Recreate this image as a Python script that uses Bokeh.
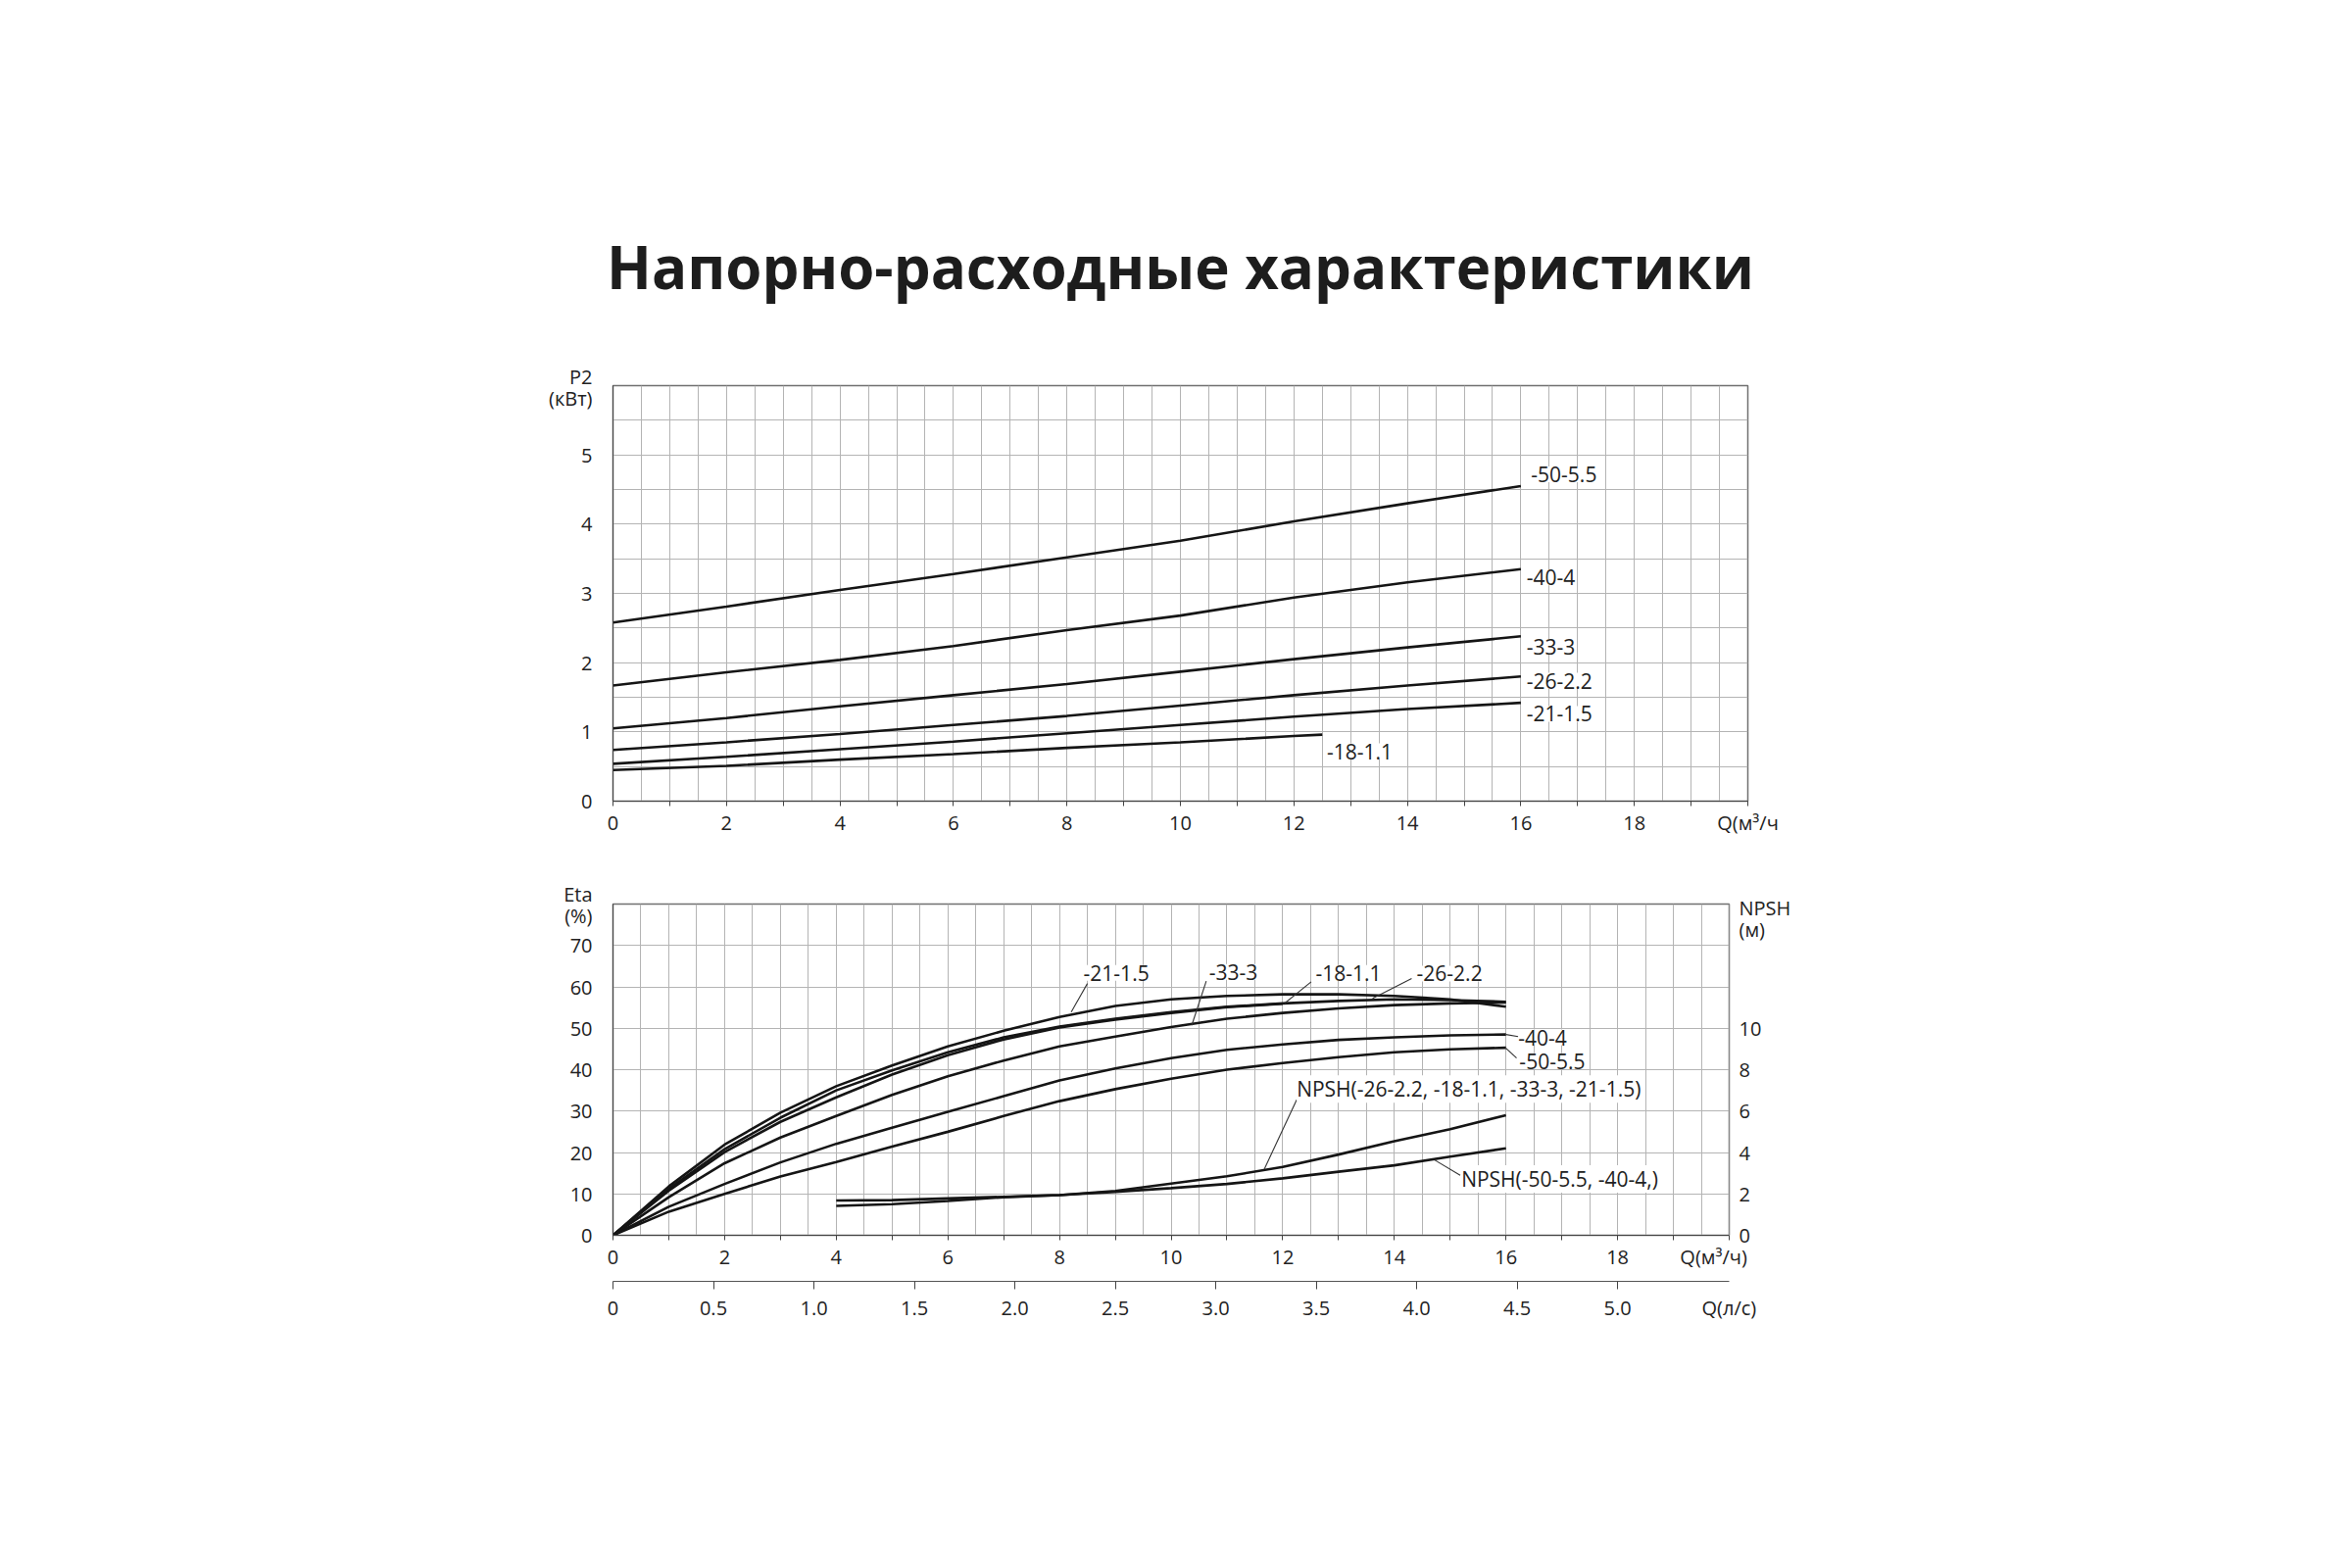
import numpy as np
from bokeh.plotting import figure
from bokeh.models import (Range1d, LinearAxis, FixedTicker, Label, CustomJSTickFormatter,
                          ColumnDataSource)
from bokeh.layouts import column
from bokeh.embed import file_html
from bokeh.resources import INLINE

# ---------------- data ----------------
TITLE = "Напорно-расходные характеристики"

# P2 (kW) vs Q (m3/h)
q_p2 = [0, 2, 4, 6, 8, 10, 12, 14, 16]
p2_50_55 = [2.58, 2.81, 3.05, 3.28, 3.52, 3.76, 4.04, 4.30, 4.55]
p2_40_4 = [1.67, 1.86, 2.04, 2.24, 2.47, 2.68, 2.94, 3.16, 3.35]
p2_33_3 = [1.05, 1.20, 1.37, 1.53, 1.69, 1.87, 2.05, 2.22, 2.38]
p2_26_22 = [0.74, 0.85, 0.97, 1.10, 1.23, 1.38, 1.53, 1.67, 1.80]
p2_21_15 = [0.54, 0.64, 0.75, 0.86, 0.98, 1.10, 1.22, 1.33, 1.42]
q_p2_18 = [0, 2, 4, 6, 8, 10, 12, 12.5]
p2_18_11 = [0.45, 0.51, 0.60, 0.68, 0.77, 0.85, 0.94, 0.96]

# Eta (%) vs Q (m3/h)
q_eta = [0, 1, 2, 3, 4, 5, 6, 7, 8, 9, 10, 11, 12, 13, 14, 15, 16]
eta_21_15 = [0, 11.8, 21.9, 29.6, 36.0, 41.0, 45.6, 49.4, 52.7, 55.4, 57.0, 57.8, 58.2, 58.2, 57.8, 57.0, 55.2]
eta_26_22 = [0, 11.2, 20.8, 28.4, 35.0, 39.8, 44.2, 47.8, 50.4, 52.3, 53.9, 55.2, 56.0, 56.6, 57.0, 56.8, 56.4]
eta_33_3 = [0, 9.2, 17.4, 23.6, 28.8, 33.9, 38.4, 42.2, 45.6, 48.0, 50.3, 52.3, 53.7, 54.8, 55.6, 56.0, 56.2]
eta_40_4 = [0, 6.9, 12.4, 17.6, 22.1, 26.0, 29.8, 33.6, 37.4, 40.3, 42.8, 44.8, 46.1, 47.2, 47.8, 48.3, 48.5]
eta_50_55 = [0, 5.7, 10.0, 14.2, 17.7, 21.4, 25.0, 28.8, 32.4, 35.3, 37.8, 40.0, 41.6, 43.0, 44.2, 44.9, 45.3]
q_eta_18 = [0, 1, 2, 3, 4, 5, 6, 7, 8, 9, 10, 11, 12]
eta_18_11 = [0, 10.8, 20.1, 27.4, 33.3, 38.8, 43.5, 47.3, 50.2, 52.1, 53.7, 55.1, 55.9]

# NPSH (m) vs Q (m3/h)
q_npsh = [4, 5, 6, 7, 8, 9, 10, 11, 12, 13, 14, 15, 16]
npsh_small = [1.42, 1.50, 1.66, 1.84, 1.94, 2.14, 2.50, 2.85, 3.30, 3.90, 4.54, 5.12, 5.80]
npsh_large = [1.68, 1.70, 1.78, 1.86, 1.94, 2.10, 2.28, 2.48, 2.75, 3.07, 3.38, 3.80, 4.20]

# tick labels / axis titles
M3H_PER_LS = 3.6
p2_x_ticks = [0, 2, 4, 6, 8, 10, 12, 14, 16, 18]
p2_y_ticks = [0, 1, 2, 3, 4, 5]
eta_x_ticks = [0, 2, 4, 6, 8, 10, 12, 14, 16, 18]
eta_y_ticks = [0, 10, 20, 30, 40, 50, 60, 70]
npsh_ticks = [0, 2, 4, 6, 8, 10]
ls_ticks = [0, 0.5, 1.0, 1.5, 2.0, 2.5, 3.0, 3.5, 4.0, 4.5, 5.0]
P2_TITLE = ("P2\\n(кВт)", 5.97)          # (text, y position)
ETA_TITLE = ("Eta\\n(%)", 79.8)
NPSH_TITLE = ("NPSH\\n(м)", 15.3)
Q_TOP_TITLE = ("Q(м³/ч", 20.0)             # (text, x position)
Q_BOT_TITLE = ("Q(м³/ч)", 19.72)
Q_LS_TITLE = ("Q(л/с)", 5.555)

# curve labels (text, x, y) and callout leader lines
p2_labels = [("-50-5.5", 16.18, 4.72), ("-40-4", 16.1, 3.23), ("-33-3", 16.1, 2.23),
             ("-26-2.2", 16.1, 1.74), ("-21-1.5", 16.1, 1.26), ("-18-1.1", 12.58, 0.72)]
eta_labels = [("-21-1.5", 8.43, 63.4), ("-33-3", 10.68, 63.6), ("-18-1.1", 12.59, 63.4),
              ("-26-2.2", 14.40, 63.2), ("-40-4", 16.22, 47.8), ("-50-5.5", 16.24, 42.1),
              ("NPSH(-26-2.2, -18-1.1, -33-3, -21-1.5)", 12.25, 35.3),
              ("NPSH(-50-5.5, -40-4,)", 15.2, 13.6)]
leaders_x0 = [8.50, 10.63, 12.51, 14.31, 16.0, 16.0, 12.25, 15.18]
leaders_y0 = [60.8, 61.4, 61.2, 62.0, 48.5, 45.2, 32.7, 14.5]
leaders_x1 = [8.21, 10.37, 12.04, 13.61, 16.22, 16.19, 11.67, 14.72]
leaders_y1 = [53.9, 50.7, 56.1, 57.2, 48.0, 42.8, 16.0, 18.2]

FONT = "Open Sans"
LINE = "#151515"
GRID = "#b4b4b4"
TXT = "#222222"


def fmt(special_text, threshold, decimals=0, zero_plain=False):
    code = ("if (tick > %s) { return '%s'; } " % (threshold, special_text))
    if zero_plain:
        code += "if (tick == 0) { return '0'; } "
    code += "return tick.toFixed(%d);" % decimals
    return CustomJSTickFormatter(code=code)


def style_common(p):
    p.outline_line_color = "#707070"
    p.outline_line_width = 1.5
    p.background_fill_color = "white"
    p.border_fill_color = "white"
    for ax in p.axis:
        ax.major_label_text_font = FONT
        ax.major_label_text_font_size = "20px"
        ax.major_label_text_color = TXT
        ax.major_label_text_line_height = 0.8
        ax.axis_line_color = "#444444"
        ax.major_tick_line_color = "#444444"
        ax.minor_tick_line_color = "#444444"
        ax.major_tick_in = 0
        ax.minor_tick_in = 0
        ax.major_tick_out = 0
        ax.minor_tick_out = 0
    for g in p.grid:
        g.grid_line_color = GRID
        g.grid_line_width = 1


def add_label(p, text, x, y):
    p.add_layout(Label(x=x, y=y, text=text, text_font=FONT, text_font_size="21px",
                       text_color=TXT, text_align="left", text_baseline="middle",
                       background_fill_color="white", background_fill_alpha=1.0))


# ---------------- top: P2 ----------------
p1 = figure(width=1899, height=869, x_range=Range1d(0, 20), y_range=Range1d(0, 6),
            output_backend="svg", toolbar_location=None,
            min_border_left=625, min_border_right=100, min_border_top=393, min_border_bottom=52)
style_common(p1)
p1.title.text = TITLE
p1.title.align = "center"
p1.title.text_font = FONT
p1.title.text_font_size = "60px"
p1.title.text_font_style = "bold"
p1.title.text_color = "#1d1d1d"
p1.title.standoff = 161

p1.xaxis.ticker = FixedTicker(ticks=p2_x_ticks + [Q_TOP_TITLE[1]], minor_ticks=list(range(0, 21)))
p1.xaxis.formatter = fmt(Q_TOP_TITLE[0], 19)
p1.xaxis.minor_tick_out = 5
p1.xaxis.major_label_standoff = 3
p1.yaxis.ticker = FixedTicker(ticks=p2_y_ticks + [P2_TITLE[1]], minor_ticks=[])
p1.yaxis.formatter = fmt(P2_TITLE[0], 5.5)
p1.yaxis.major_label_standoff = 21
p1.xgrid.ticker = FixedTicker(ticks=list(np.arange(0, 20.01, 0.5)))
p1.ygrid.ticker = FixedTicker(ticks=list(np.arange(0, 6.01, 0.5)))

for ys in [p2_50_55, p2_40_4, p2_33_3, p2_26_22, p2_21_15]:
    p1.line(q_p2, ys, line_color=LINE, line_width=2.6)
p1.line(q_p2_18, p2_18_11, line_color=LINE, line_width=2.6)

for t, x, y in p2_labels:
    add_label(p1, t, x, y)

# ---------------- bottom: Eta / NPSH ----------------
p2 = figure(width=1880, height=491, x_range=Range1d(0, 20), y_range=Range1d(0, 80),
            output_backend="svg", toolbar_location=None,
            min_border_left=622, min_border_right=116, min_border_top=53, min_border_bottom=100)
p2.extra_y_ranges = {"npsh": Range1d(0, 16)}
p2.extra_x_ranges = {"ls": Range1d(0, 20 / M3H_PER_LS)}
right_ax = LinearAxis(y_range_name="npsh",
                      ticker=FixedTicker(ticks=npsh_ticks + [NPSH_TITLE[1]], minor_ticks=[]),
                      formatter=fmt(NPSH_TITLE[0], 12))
p2.add_layout(right_ax, "right")
ls_ax = LinearAxis(x_range_name="ls",
                   ticker=FixedTicker(ticks=ls_ticks + [Q_LS_TITLE[1]], minor_ticks=ls_ticks),
                   formatter=fmt(Q_LS_TITLE[0], 5.2, decimals=1, zero_plain=True))
p2.add_layout(ls_ax, "below")
style_common(p2)

main_x = p2.xaxis[0]
main_x.ticker = FixedTicker(ticks=eta_x_ticks + [Q_BOT_TITLE[1]], minor_ticks=list(range(0, 21)))
main_x.formatter = fmt(Q_BOT_TITLE[0], 19)
main_x.minor_tick_out = 5
main_x.major_label_standoff = 3
main_x.axis_label = " "
main_x.axis_label_text_font_size = "5px"
main_x.axis_label_standoff = 0
ls_ax.minor_tick_out = 8
ls_ax.major_label_standoff = 5
ls_ax.axis_line_color = "#555555"
p2.yaxis[0].ticker = FixedTicker(ticks=eta_y_ticks + [ETA_TITLE[1]], minor_ticks=[])
p2.yaxis[0].formatter = fmt(ETA_TITLE[0], 75)
p2.yaxis[0].major_label_standoff = 21
right_ax.major_label_standoff = 10
right_ax.axis_line_color = "#8a8a8a"
p2.xgrid.ticker = FixedTicker(ticks=list(np.arange(0, 20.01, 0.5)))
p2.ygrid.ticker = FixedTicker(ticks=eta_y_ticks + [80])

for ys in [eta_21_15, eta_26_22, eta_33_3, eta_40_4, eta_50_55]:
    p2.line(q_eta, ys, line_color=LINE, line_width=2.6)
p2.line(q_eta_18, eta_18_11, line_color=LINE, line_width=2.6)
p2.line(q_npsh, npsh_small, line_color=LINE, line_width=2.6, y_range_name="npsh")
p2.line(q_npsh, npsh_large, line_color=LINE, line_width=2.6, y_range_name="npsh")

lead = ColumnDataSource(dict(x0=leaders_x0, y0=leaders_y0, x1=leaders_x1, y1=leaders_y1))
p2.segment("x0", "y0", "x1", "y1", source=lead, line_color="#333333", line_width=1.1)

for t, x, y in eta_labels:
    add_label(p2, t, x, y)

layout = column(p1, p2, spacing=0)
with open("out.html", "w", encoding="utf-8") as f:
    f.write(file_html(layout, INLINE))
